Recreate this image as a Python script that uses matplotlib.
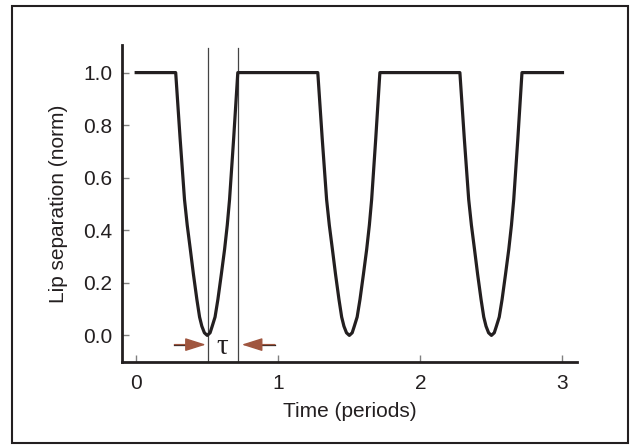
import matplotlib
matplotlib.use('Agg')
import numpy as np
import matplotlib.pyplot as plt
from matplotlib import patches

# one dip of the waveform (offset from minimum, value)
dip_offset = [-0.222, -0.191, -0.160, -0.141, -0.119, -0.097, -0.073, -0.054,
              -0.038, -0.020, 0.0, 0.020, 0.035, 0.055, 0.075, 0.099, 0.122,
              0.141, 0.157, 0.186, 0.215]
dip_value = [1.0, 0.75, 0.517, 0.42, 0.327, 0.232, 0.137, 0.07,
             0.035, 0.010, 0.0, 0.010, 0.035, 0.07, 0.137, 0.232, 0.327,
             0.42, 0.517, 0.75, 1.0]
dip_centers = [0.5, 1.5, 2.5]
t_start, t_end = 0.0, 3.0

tau_lines = [0.504, 0.719]
xticks = [0, 1, 2, 3]
yticks = [0.0, 0.2, 0.4, 0.6, 0.8, 1.0]

t = [t_start]
y = [1.0]
for c in dip_centers:
    t += [c + o for o in dip_offset]
    y += dip_value
t.append(t_end)
y.append(1.0)

plt.rcParams['font.family'] = ['Liberation Sans', 'DejaVu Sans']

fig = plt.figure(figsize=(6.34, 4.45), dpi=100)
ax = fig.add_axes([0.1924, 0.1872, 0.7172, 0.7117])

ax.plot(t, y, color='#231f20', lw=2.3, solid_joinstyle='round', zorder=3)

for x in tau_lines:
    ax.plot([x, x], [-0.1, 1.094], color='#444444', lw=0.9, zorder=2)

brown = '#a0563f'
arrow_y = -0.035
astyle = '-|>,head_length=0.85,head_width=0.27'
# left arrow
ax.annotate('', xy=(0.490, arrow_y), xytext=(0.269, arrow_y),
            arrowprops=dict(arrowstyle=astyle, color=brown, lw=1,
                            shrinkA=0, shrinkB=0, mutation_scale=15))
ax.plot([0.269, 0.38], [arrow_y, arrow_y], color='#231f20', lw=0.9)
# right arrow
ax.annotate('', xy=(0.743, arrow_y), xytext=(0.977, arrow_y),
            arrowprops=dict(arrowstyle=astyle, color=brown, lw=1,
                            shrinkA=0, shrinkB=0, mutation_scale=15))
ax.plot([0.855, 0.977], [arrow_y, arrow_y], color='#231f20', lw=0.9)

ax.text(0.607, -0.045, '\u03c4', ha='center', va='center', fontsize=21,
        family=['Liberation Serif', 'DejaVu Serif'], color='#231f20')

ax.set_xlim(-0.1, 3.1)
ax.set_ylim(-0.1, 1.105)
ax.set_xticks(xticks)
ax.set_yticks(yticks)
ax.set_yticklabels(['%.1f' % v for v in yticks])
ax.tick_params(direction='in', length=5, width=1, color='#808080',
               labelsize=15, labelcolor='#231f20')
ax.tick_params(axis='x', pad=9)
ax.tick_params(axis='y', pad=7)

for s in ['top', 'right']:
    ax.spines[s].set_visible(False)
for s in ['left', 'bottom']:
    ax.spines[s].set_linewidth(2)
    ax.spines[s].set_color('#231f20')

ax.set_xlabel('Time (periods)', fontsize=15, color='#231f20', labelpad=6)
ax.set_ylabel('Lip separation (norm)', fontsize=15, color='#231f20', labelpad=11)

# frame round the whole figure
fig.patches.append(patches.Rectangle((0.019, 0.0045), 0.9715, 0.982,
                                     transform=fig.transFigure, fill=False,
                                     edgecolor='#231f20', lw=1.5))

fig.savefig('out.png', dpi=100)
